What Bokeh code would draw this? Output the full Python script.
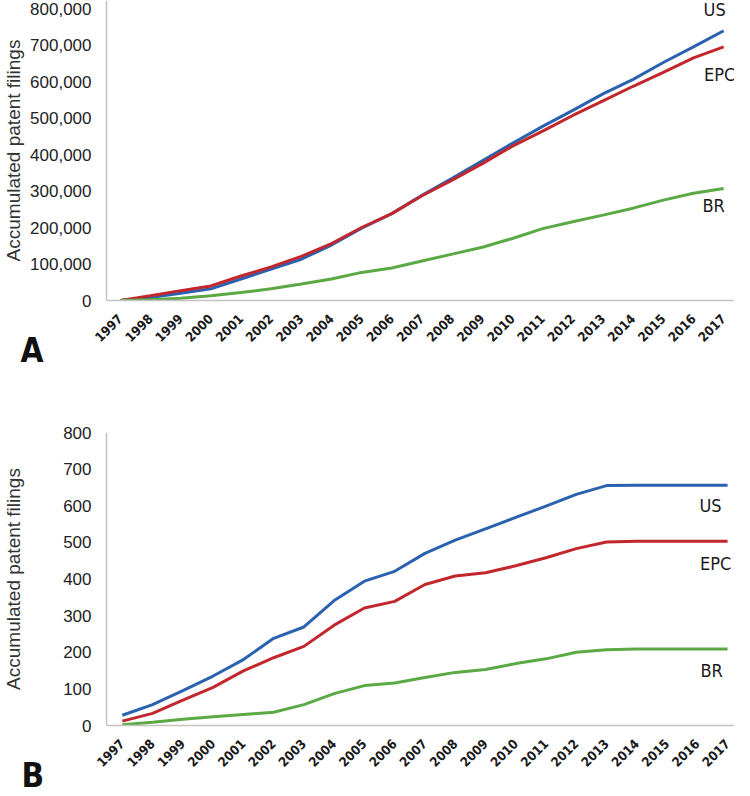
import math
from bokeh.plotting import figure
from bokeh.layouts import column
from bokeh.models import FixedTicker, NumeralTickFormatter, Range1d, Title
from bokeh.core.properties import value
from bokeh.embed import file_html
from bokeh.resources import INLINE

years = list(range(1997, 2018))

# Panel A: accumulated patent filings (all)
a_us = [0, 8000, 20000, 32000, 59000, 86000, 113000, 152000, 198000, 238000, 288000,
        335000, 383000, 431000, 477000, 521000, 566000, 606000, 652000, 695000, 739000]
a_epc = [0, 13000, 27000, 40000, 67000, 92000, 121000, 156000, 200000, 238000, 287000,
         330000, 375000, 423000, 464000, 507000, 547000, 587000, 625000, 665000, 695000]
a_br = [0, 2000, 6000, 13000, 22000, 32000, 45000, 59000, 77000, 89000, 108000,
        127000, 146000, 170000, 197000, 216000, 234000, 253000, 275000, 294000, 307000]

# Panel B: accumulated patent filings (subset)
b_us = [28, 57, 95, 135, 180, 238, 269, 341, 394, 421, 470, 506, 537, 568, 599, 631, 655, 656, 656, 656, 656]
b_epc = [12, 33, 69, 104, 149, 185, 216, 274, 321, 339, 385, 408, 417, 436, 458, 483, 501, 503, 503, 503, 503]
b_br = [2, 9, 17, 24, 30, 36, 57, 87, 109, 116, 131, 145, 153, 169, 182, 200, 207, 209, 209, 209, 209]

series_names = ["US", "EPC", "BR"]
colors = ["#2a62b0", "#c1272d", "#5aa944"]
a_ticks = list(range(0, 800001, 100000))
b_ticks = list(range(0, 801, 100))

SANS = "'Liberation Sans', Arial, sans-serif"
NARROW = "'DejaVu Sans Condensed', 'Liberation Sans', sans-serif"


def make_panel(series, ticks, fmt, xr, yr, height, width,
               bl, bt, bb, label_offsets, title_standoff, letter, letter_offset):
    p = figure(width=width, height=height, output_backend="svg", toolbar_location=None,
               x_range=Range1d(*xr), y_range=Range1d(*yr),
               min_border_left=bl, min_border_right=0, min_border_top=bt,
               min_border_bottom=bb)
    p.outline_line_color = None
    p.xgrid.visible = False
    p.ygrid.visible = False

    for vals, col in zip(series, colors):
        p.line(years, vals, line_color=col, line_width=3)

    for name, vals, (dx, dy) in zip(series_names, series, label_offsets):
        p.text([years[-1]], [vals[-1]], text=[name], x_offset=dx, y_offset=dy,
               text_font=value(NARROW), text_font_size="18px", text_color="#1a1a1a",
               text_align="center", text_baseline="middle")

    ya = p.yaxis[0]
    ya.ticker = FixedTicker(ticks=ticks)
    ya.formatter = NumeralTickFormatter(format=fmt)
    ya.axis_line_color = "#c4c4c4"
    ya.axis_line_width = 1.5
    ya.major_tick_line_color = None
    ya.minor_tick_line_color = None
    ya.major_label_text_font = SANS
    ya.major_label_text_font_size = "17px"
    ya.major_label_text_color = "#222222"
    ya.major_label_standoff = 9
    ya.axis_label = "Accumulated patent filings"
    ya.axis_label_text_font = SANS
    ya.axis_label_text_font_size = "19px"
    ya.axis_label_text_font_style = "normal"
    ya.axis_label_text_color = "#333333"
    ya.axis_label_standoff = title_standoff

    xa = p.xaxis[0]
    xa.ticker = FixedTicker(ticks=years)
    xa.axis_line_color = "#c4c4c4"
    xa.axis_line_width = 1.5
    xa.major_tick_line_color = None
    xa.minor_tick_line_color = None
    xa.major_label_orientation = math.pi / 4
    xa.major_label_text_font = NARROW
    xa.major_label_text_font_style = "bold"
    xa.major_label_text_font_size = "13px"
    xa.major_label_text_color = "#1a1a1a"
    xa.major_label_standoff = 10

    p.add_layout(Title(text=letter, align="left", offset=letter_offset,
                       standoff=-40, text_font=NARROW,
                       text_font_style="bold", text_font_size="33px",
                       text_color="#111111"), "below")
    return p


pa = make_panel([a_us, a_epc, a_br], a_ticks, "0,0", (1996.542, 2017.36), (0, 822000),
                380, 734, 98, 0, 80,
                [(-9, -21), (-4, 28), (-10, 17)],
                3, "A", -86)

pb = make_panel([b_us, b_epc, b_br], b_ticks, "0", (1996.477, 2017.229), (0, 800),
                415, 734, 99, 52, 70,
                [(-17, 20), (-12, 22), (-16, 22)],
                36, "B", -85)

layout = column(pa, pb, spacing=0)
open("out.html", "w").write(file_html(layout, INLINE))
